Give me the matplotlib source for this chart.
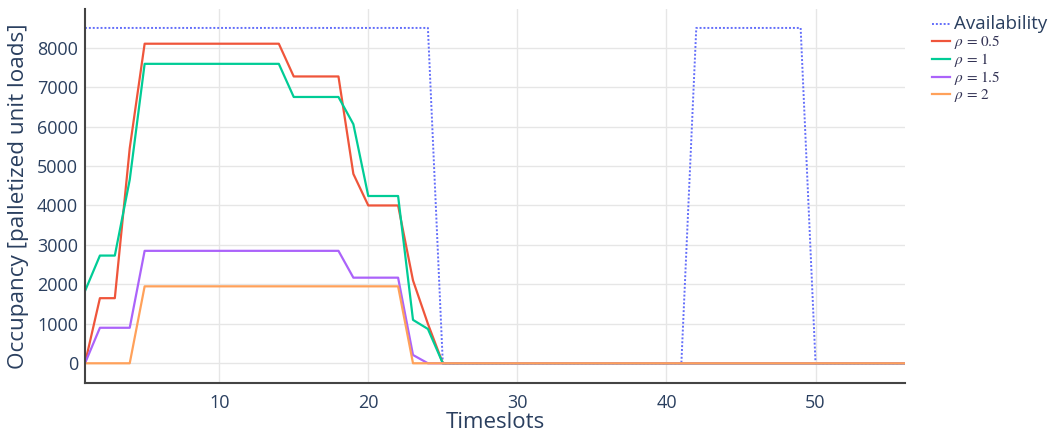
import matplotlib
matplotlib.use("Agg")
import matplotlib.pyplot as plt

# timeslots 1..56
timeslots = list(range(1, 57))

availability = [8500] * 24 + [0] * 17 + [8500] * 8 + [0] * 7
rho_05 = [0, 1650, 1650, 5450, 8100, 8100, 8100, 8100, 8100, 8100, 8100, 8100, 8100, 8100,
          7270, 7270, 7270, 7270, 4800, 4000, 4000, 4000, 2100, 1000] + [0] * 32
rho_1 = [1830, 2730, 2730, 4650, 7590, 7590, 7590, 7590, 7590, 7590, 7590, 7590, 7590, 7590,
         6750, 6750, 6750, 6750, 6060, 4240, 4240, 4240, 1100, 870] + [0] * 32
rho_15 = [0, 900, 900, 900, 2850, 2850, 2850, 2850, 2850, 2850, 2850, 2850, 2850, 2850,
          2850, 2850, 2850, 2850, 2170, 2170, 2170, 2170, 210] + [0] * 33
rho_2 = [0, 0, 0, 0, 1950, 1950, 1950, 1950, 1950, 1950, 1950, 1950, 1950, 1950,
         1950, 1950, 1950, 1950, 1950, 1950, 1950, 1950] + [0] * 34

series = [
    ("Availability", availability, "#636efa", (0, (1, 1))),
    (r"$\rho$ = 0.5", rho_05, "#ef553b", "-"),
    (r"$\rho$ = 1", rho_1, "#00cc96", "-"),
    (r"$\rho$ = 1.5", rho_15, "#ab63fa", "-"),
    (r"$\rho$ = 2", rho_2, "#ffa15a", "-"),
]

text_color = "#2a3f5f"
plt.rcParams["font.family"] = ["Open Sans", "DejaVu Sans"]
plt.rcParams["mathtext.fontset"] = "stix"

fig = plt.figure(figsize=(10.49, 4.36), dpi=100)
ax = fig.add_axes([85 / 1049, 1 - 383 / 436, 820 / 1049, 374 / 436])

for name, vals, color, ls in series:
    lw = 1.4 if name == "Availability" else 1.6
    ax.plot(timeslots, vals, color=color, linestyle=ls, linewidth=lw, label=name)

ax.set_xlim(1, 56)
ax.set_ylim(-500, 8980)
ax.set_xticks([10, 20, 30, 40, 50])
ax.set_yticks(range(0, 9000, 1000))
ax.grid(True, color="#e6e6e6", linewidth=1)
ax.set_axisbelow(True)
ax.tick_params(length=0, labelsize=13, colors=text_color)
ax.tick_params(axis="y", pad=5)
ax.tick_params(axis="x", pad=8)
for side in ["top", "right"]:
    ax.spines[side].set_visible(False)
for side in ["left", "bottom"]:
    ax.spines[side].set_color("#444444")
    ax.spines[side].set_linewidth(1.5)

ax.set_xlabel("Timeslots", fontsize=16, color=text_color, labelpad=0)
ax.set_ylabel("Occupancy [palletized unit loads]", fontsize=16.2, color=text_color, labelpad=6)

leg = fig.legend(loc="upper left", bbox_to_anchor=(917 / 1049, 1.0), frameon=False,
                 handlelength=1.25, handletextpad=0.3, labelspacing=0.0, borderaxespad=0.7)
texts = leg.get_texts()
texts[0].set_fontsize(13.5)
texts[0].set_color(text_color)
for t in texts[1:]:
    t.set_fontsize(11)
    t.set_family("STIXGeneral")
    t.set_color("#333355")

fig.savefig("out.png", dpi=100)
